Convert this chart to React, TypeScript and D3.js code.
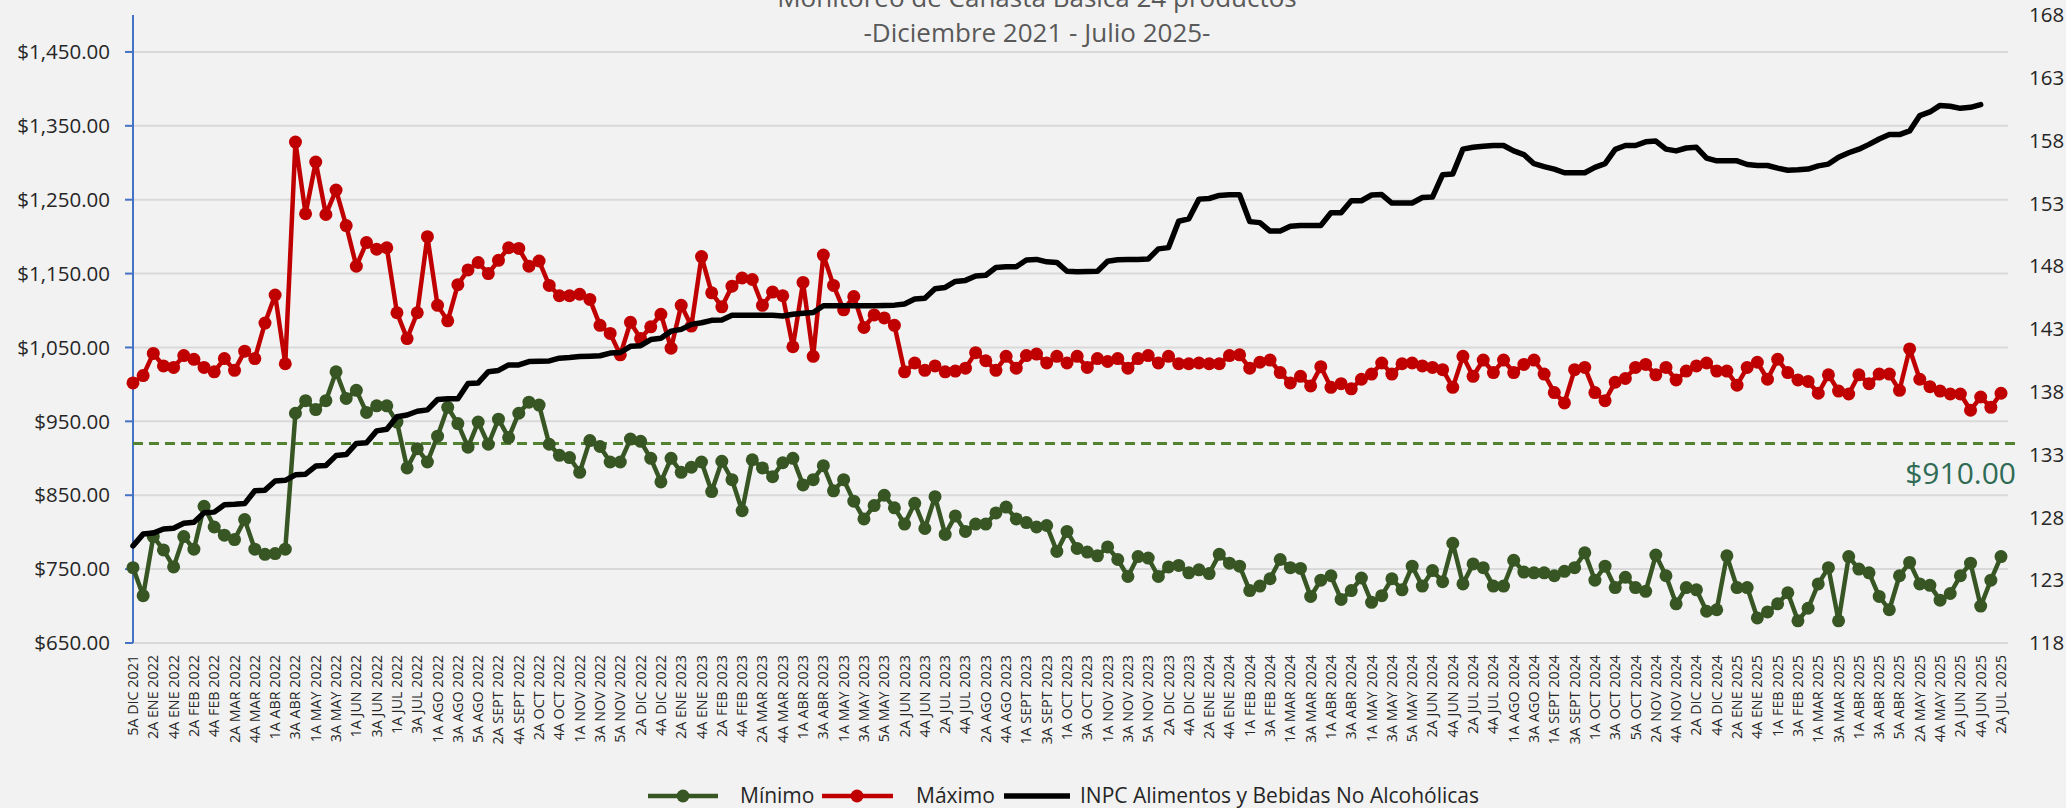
import React from "react";
import * as d3 from "d3";

const WIDTH = 2066;
const HEIGHT = 808;

// etiquetas visibles del eje X (una de cada dos semanas)
const tickLabels = [
  "5A DIC 2021", "2A ENE 2022", "4A ENE 2022", "2A FEB 2022", "4A FEB 2022", "2A MAR 2022", "4A MAR 2022",
  "1A ABR 2022", "3A ABR 2022", "1A MAY 2022", "3A MAY 2022", "1A JUN 2022", "3A JUN 2022", "1A JUL 2022",
  "3A JUL 2022", "1A AGO 2022", "3A AGO 2022", "5A AGO 2022", "2A SEPT 2022", "4A SEPT 2022", "2A OCT 2022",
  "4A OCT 2022", "1A NOV 2022", "3A NOV 2022", "5A NOV 2022", "2A DIC 2022", "4A DIC 2022", "2A ENE 2023",
  "4A ENE 2023", "2A FEB 2023", "4A FEB 2023", "2A MAR 2023", "4A MAR 2023", "1A ABR 2023", "3A ABR 2023",
  "1A MAY 2023", "3A MAY 2023", "5A MAY 2023", "2A JUN 2023", "4A JUN 2023", "2A JUL 2023", "4A JUL 2023",
  "2A AGO 2023", "4A AGO 2023", "1A SEPT 2023", "3A SEPT 2023", "1A OCT 2023", "3A OCT 2023", "1A NOV 2023",
  "3A NOV 2023", "5A NOV 2023", "2A DIC 2023", "4A DIC 2023", "2A ENE 2024", "4A ENE 2024", "1A FEB 2024",
  "3A FEB 2024", "1A MAR 2024", "3A MAR 2024", "1A ABR 2024", "3A ABR 2024", "1A MAY 2024", "3A MAY 2024",
  "5A MAY 2024", "2A JUN 2024", "4A JUN 2024", "2A JUL 2024", "4A JUL 2024", "1A AGO 2024", "3A AGO 2024",
  "1A SEPT 2024", "3A SEPT 2024", "1A OCT 2024", "3A OCT 2024", "5A OCT 2024", "2A NOV 2024", "4A NOV 2024",
  "2A DIC 2024", "4A DIC 2024", "2A ENE 2025", "4A ENE 2025", "1A FEB 2025", "3A FEB 2025", "1A MAR 2025",
  "3A MAR 2025", "1A ABR 2025", "3A ABR 2025", "5A ABR 2025", "2A MAY 2025", "4A MAY 2025", "2A JUN 2025",
  "4A JUN 2025", "2A JUL 2025",
];

// costo mínimo semanal
const minimo = [
  752, 714, 794, 776, 753, 794, 777, 835, 807, 796, 790, 817, 777, 770, 771, 777, 961, 978, 966, 978,
  1017, 981, 992, 962, 971, 971, 949, 887, 913, 895, 930, 969, 947, 915, 949, 919, 953, 928, 961, 976,
  972, 919, 904, 901, 881, 924, 916, 895, 895, 926, 923, 900, 868, 900, 881, 888, 895, 855, 896, 871,
  829, 898, 887, 875, 894, 900, 864, 871, 890, 856, 871, 842, 818, 836, 850, 833, 811, 839, 805, 848,
  797, 822, 801, 811, 811, 826, 834, 818, 813, 807, 809, 774, 801, 778, 773, 768, 780, 763, 740, 767,
  765, 740, 753, 755, 745, 749, 744, 770, 758, 754, 721, 727, 737, 763, 752, 751, 713, 735, 741, 709,
  721, 738, 705, 714, 737, 722, 754, 727, 748, 733, 785, 730, 757, 752, 727, 727, 762, 746, 745, 745,
  741, 747, 752, 772, 735, 754, 725, 739, 725, 720, 769, 741, 703, 725, 722, 693, 695, 768, 725, 725,
  684, 692, 703, 718, 680, 697, 730, 752, 680, 767, 750, 745, 713, 695, 741, 759, 730, 728, 708, 717,
  741, 758, 700, 735, 767,
];

// costo máximo semanal
const maximo = [
  1002, 1012, 1042, 1025, 1023, 1039, 1034, 1023, 1017, 1035, 1019, 1045, 1035, 1083, 1121, 1028, 1328, 1231, 1301, 1230,
  1263, 1215, 1160, 1192, 1183, 1185, 1097, 1062, 1097, 1200, 1107, 1086, 1135, 1155, 1165, 1150, 1168, 1185, 1184, 1160,
  1167, 1134, 1120, 1120, 1122, 1115, 1080, 1069, 1040, 1084, 1062, 1078, 1095, 1049, 1107, 1079, 1173, 1124, 1105, 1133,
  1144, 1142, 1107, 1125, 1120, 1051, 1138, 1038, 1175, 1134, 1101, 1119, 1077, 1094, 1090, 1080, 1017, 1029, 1019, 1025,
  1017, 1018, 1022, 1043, 1032, 1019, 1038, 1022, 1039, 1041, 1029, 1038, 1029, 1038, 1023, 1035, 1031, 1035, 1022, 1035,
  1039, 1029, 1038, 1028, 1028, 1029, 1028, 1028, 1039, 1040, 1022, 1030, 1033, 1016, 1002, 1011, 998, 1024, 996, 1001,
  994, 1007, 1014, 1029, 1014, 1028, 1029, 1025, 1023, 1020, 996, 1038, 1011, 1033, 1016, 1033, 1016, 1027, 1033, 1014,
  989, 975, 1020, 1023, 989, 978, 1003, 1008, 1023, 1027, 1013, 1023, 1006, 1018, 1025, 1029, 1018, 1018, 999, 1023,
  1030, 1007, 1034, 1016, 1006, 1004, 988, 1013, 991, 987, 1013, 1001, 1014, 1014, 992, 1048, 1007, 997, 991, 987,
  987, 965, 983, 969, 988,
];

// INPC alimentos y bebidas no alcohólicas (eje derecho)
const inpc = [
  125.73, 126.67, 126.75, 127.08, 127.13, 127.53, 127.61, 128.37, 128.42, 129.0, 129.04, 129.1, 130.12, 130.17, 130.9,
  130.95, 131.39, 131.44, 132.09, 132.14, 132.92, 133.0, 133.89, 133.94, 134.89, 135.02, 136.02, 136.15, 136.45, 136.56,
  137.39, 137.45, 137.45, 138.66, 138.71, 139.6, 139.7, 140.14, 140.14, 140.41, 140.43, 140.46, 140.68, 140.73, 140.81,
  140.84, 140.87, 141.08, 141.13, 141.62, 141.67, 142.16, 142.27, 142.83, 142.97, 143.37, 143.5, 143.69, 143.72, 144.1,
  144.1, 144.1, 144.1, 144.1, 144.04, 144.18, 144.26, 144.31, 144.85, 144.85, 144.85, 144.85, 144.85, 144.85, 144.88,
  144.9, 144.99, 145.39, 145.44, 146.2, 146.31, 146.79, 146.87, 147.22, 147.28, 147.9, 147.95, 147.95, 148.49, 148.54,
  148.35, 148.3, 147.6, 147.55, 147.57, 147.6, 148.4, 148.51, 148.54, 148.54, 148.57, 149.38, 149.48, 151.58, 151.77,
  153.34, 153.39, 153.63, 153.69, 153.69, 151.55, 151.47, 150.8, 150.8, 151.18, 151.24, 151.24, 151.24, 152.25, 152.25,
  153.21, 153.21, 153.67, 153.7, 153.03, 153.03, 153.03, 153.47, 153.5, 155.29, 155.35, 157.32, 157.47, 157.55, 157.61,
  157.61, 157.18, 156.89, 156.16, 155.93, 155.73, 155.44, 155.44, 155.44, 155.87, 156.16, 157.3, 157.61, 157.61, 157.9,
  157.96, 157.32, 157.18, 157.41, 157.47, 156.6, 156.39, 156.39, 156.39, 156.1, 156.02, 156.02, 155.81, 155.64, 155.67,
  155.73, 155.99, 156.13, 156.68, 157.03, 157.32, 157.7, 158.13, 158.48, 158.48, 158.77, 159.99, 160.28, 160.8, 160.74,
  160.57, 160.65, 160.86,
];

const leftTicks = d3.range(650, 1451, 100);
const rightTicks = d3.range(118, 169, 5);
const refLine = 920;
const refLabel = "$910.00";

const GREEN = "#375623";
const RED = "#c00000";
const FONT = "'Open Sans', 'Noto Sans', sans-serif";

export default function App() {
  const n = maximo.length;
  const x = d3.scaleLinear().domain([0, n - 1]).range([133, 2001]);
  const yL = d3.scaleLinear().domain([650, 1500]).range([643, 15]);
  const yR = d3.scaleLinear().domain([118, 168]).range([643, 15]);

  const lineL = d3.line<number>().x((_, i) => x(i)).y((d) => yL(d));
  const lineR = d3.line<number>().x((_, i) => x(i)).y((d) => yR(d));
  const fmt = d3.format(",.2f");

  return (
    <div style={{ position: "absolute", left: 0, top: 0 }}>
      <svg width={WIDTH} height={HEIGHT} style={{ display: "block", fontFamily: FONT }}>
        <rect width={WIDTH} height={HEIGHT} fill="#f2f2f2" />

        <text x={1037} y={7} textAnchor="middle" fontSize={26} fill="#595959">
          Monitoreo de Canasta Básica 24 productos
        </text>
        <text x={1037} y={42} textAnchor="middle" fontSize={26} fill="#595959">
          -Diciembre 2021 - Julio 2025-
        </text>

        {leftTicks.map((t) => (
          <g key={t}>
            <line x1={133} x2={2008} y1={yL(t)} y2={yL(t)} stroke="#d9d9d9" strokeWidth={2} />
            <line x1={125} x2={133} y1={yL(t)} y2={yL(t)} stroke="#4472c4" strokeWidth={2} />
            <text x={110} y={yL(t)} dy="0.35em" textAnchor="end" fontSize={20.5} fill="#262626">
              ${fmt(t)}
            </text>
          </g>
        ))}
        <line x1={133} x2={133} y1={15} y2={643} stroke="#4472c4" strokeWidth={2} />

        {rightTicks.map((t) => (
          <text key={t} x={2029} y={yR(t)} dy="0.35em" fontSize={20.5} fill="#262626">
            {t}
          </text>
        ))}

        {tickLabels.map((lab, i) => (
          <text
            key={lab}
            transform={`translate(${x(i * 2)},655) rotate(-90)`}
            dy="0.35em"
            textAnchor="end"
            fontSize={14.3}
            fill="#262626"
          >
            {lab}
          </text>
        ))}

        <line x1={133} x2={2016} y1={yL(refLine)} y2={yL(refLine)} stroke="#548235" strokeWidth={3.2} strokeDasharray="10,6" />
        <text x={2016} y={yL(refLine) + 40} textAnchor="end" fontSize={30} fill="#2f6b55">
          {refLabel}
        </text>

        <path d={lineL(minimo) ?? ""} fill="none" stroke={GREEN} strokeWidth={4.5} strokeLinejoin="round" />
        {minimo.map((v, i) => (
          <circle key={"g" + i} cx={x(i)} cy={yL(v)} r={6.5} fill={GREEN} />
        ))}

        <path d={lineL(maximo) ?? ""} fill="none" stroke={RED} strokeWidth={4.5} strokeLinejoin="round" />
        {maximo.map((v, i) => (
          <circle key={"r" + i} cx={x(i)} cy={yL(v)} r={6.5} fill={RED} />
        ))}

        <path d={lineR(inpc) ?? ""} fill="none" stroke="#000" strokeWidth={5.5} strokeLinejoin="round" strokeLinecap="round" />

        <g fontSize={21} fill="#262626">
          <line x1={648} x2={718} y1={796} y2={796} stroke={GREEN} strokeWidth={4.5} />
          <circle cx={683} cy={796} r={6.5} fill={GREEN} />
          <text x={740} y={796} dy="0.35em">Mínimo</text>
          <line x1={822} x2={893} y1={796} y2={796} stroke={RED} strokeWidth={4.5} />
          <circle cx={857} cy={796} r={6.5} fill={RED} />
          <text x={916} y={796} dy="0.35em">Máximo</text>
          <line x1={1004} x2={1070} y1={796} y2={796} stroke="#000" strokeWidth={5.5} />
          <text x={1080} y={796} dy="0.35em">INPC Alimentos y Bebidas No Alcohólicas</text>
        </g>
      </svg>
    </div>
  );
}
